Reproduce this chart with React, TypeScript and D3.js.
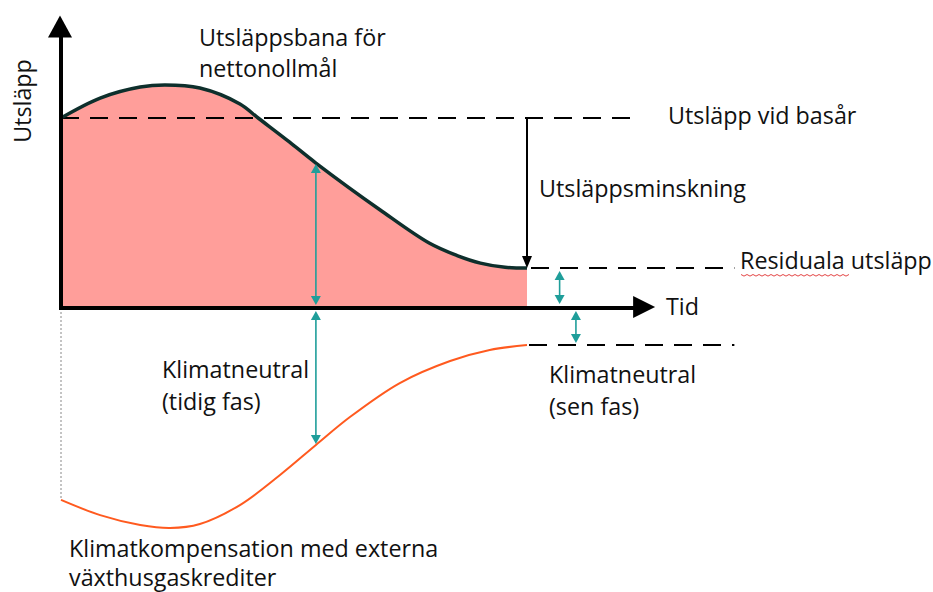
import React from "react";
import * as d3 from "d3";

// ---- data (conceptual units: time 0..100, emissions relative to base year = 100) ----
const emissionTime = [0, 8.4, 17, 22.3, 29.8, 38.4, 42.3, 49, 54.7, 68.5, 79, 85, 90, 95.3, 100];
const emissionValue = [100, 110.5, 116.3, 117.4, 115.8, 107.4, 100, 87.4, 76.3, 51.6, 34.2, 27.6, 23.6, 21.4, 21];
const compensationTime = [0, 8.4, 17, 23.4, 29.8, 38.4, 47, 54.7, 62, 72.7, 83.5, 92, 100];
const compensationValue = [-101, -109, -114.2, -115.8, -113.7, -103.7, -87.9, -72.1, -57.4, -39.5, -27.9, -22.1, -19.5];
const baseLevel = 100;
const residualLevel = 21;
const lateNeutralLevel = -19.5;
const earlyNeutralTime = 54.7;
const labels = {
  yAxis: "Utsläpp",
  xAxis: "Tid",
  pathway: ["Utsläppsbana för", "nettonollmål"],
  base: "Utsläpp vid basår",
  reduction: "Utsläppsminskning",
  residual: "Residuala utsläpp",
  early: ["Klimatneutral", "(tidig fas)"],
  late: ["Klimatneutral", "(sen fas)"],
  compensation: ["Klimatkompensation med externa", "växthusgaskrediter"],
};

const W = 933;
const H = 592;
const FONT = "'Open Sans', 'Noto Sans', sans-serif";
const TEAL = "#1f9e9a";

function DoubleArrow({ x, y1, y2 }: { x: number; y1: number; y2: number }) {
  const h = 9;
  const w = 5;
  return (
    <g>
      <line x1={x} x2={x} y1={y1 + h - 1} y2={y2 - h + 1} stroke={TEAL} strokeWidth={1.6} />
      <polygon points={`${x},${y1} ${x - w},${y1 + h} ${x + w},${y1 + h}`} fill={TEAL} />
      <polygon points={`${x},${y2} ${x - w},${y2 - h} ${x + w},${y2 - h}`} fill={TEAL} />
    </g>
  );
}

export default function App() {
  const x = d3.scaleLinear().domain([0, 100]).range([61, 527]);
  const y = d3.scaleLinear().domain([0, 100]).range([308, 118]);

  const emData = emissionTime.map((t, i) => [t, emissionValue[i]] as [number, number]);
  const compData = compensationTime.map((t, i) => [t, compensationValue[i]] as [number, number]);

  const line = d3
    .line<[number, number]>()
    .x((d) => x(d[0]))
    .y((d) => y(d[1]))
    .curve(d3.curveCatmullRom.alpha(0.5));
  const area = d3
    .area<[number, number]>()
    .x((d) => x(d[0]))
    .y0(y(0))
    .y1((d) => y(d[1]))
    .curve(d3.curveCatmullRom.alpha(0.5));

  const x0 = x(0);
  const xEnd = x(100);
  const xAxisEnd = x(127.5);
  const yAxisTop = y(154);
  const dashEnd = x(144.5);
  const baseDashEnd = x(123.5);
  const yZero = y(0);

  const emAtEarly = 76.3;
  const compEarly = -72.1;

  const textStyle = { fontFamily: FONT, fontSize: 23.3, fill: "#111" } as React.CSSProperties;

  // wavy underline for "Residuala"
  const wavy: string[] = [];
  for (let i = 0; i <= 36; i++) {
    const px = 741 + i * 3;
    const py = 274.5 + (i % 2 === 0 ? 0 : 1.6);
    wavy.push(`${i === 0 ? "M" : "L"}${px},${py}`);
  }

  return (
    <svg
      width={W}
      height={H}
      style={{ position: "absolute", left: 0, top: 0, background: "#fff" }}
    >
      {/* fill */}
      <path d={area(emData) || ""} fill="#ff9e9a" />
      {/* dotted left guide */}
      <line x1={x0} x2={x0} y1={yZero} y2={y(-101)} stroke="#888" strokeWidth={1} strokeDasharray="2,2" />

      {/* dashed reference lines */}
      <line x1={x0} x2={baseDashEnd} y1={y(baseLevel)} y2={y(baseLevel)} stroke="#000" strokeWidth={2} strokeDasharray="18,11" />
      <line x1={xEnd + 4} x2={dashEnd} y1={y(residualLevel)} y2={y(residualLevel)} stroke="#000" strokeWidth={2} strokeDasharray="18,11" />
      <line x1={xEnd + 2} x2={dashEnd} y1={y(lateNeutralLevel)} y2={y(lateNeutralLevel)} stroke="#000" strokeWidth={2} strokeDasharray="18,11" />

      {/* emission pathway */}
      <path d={line(emData) || ""} fill="none" stroke="#0e2f2c" strokeWidth={3.5} />
      {/* compensation curve */}
      <path d={line(compData) || ""} fill="none" stroke="#ff5a1f" strokeWidth={2} />

      {/* reduction arrow */}
      <line x1={xEnd} x2={xEnd} y1={y(baseLevel)} y2={y(residualLevel) - 10} stroke="#000" strokeWidth={2} />
      <polygon
        points={`${xEnd},${y(residualLevel)} ${xEnd - 5},${y(residualLevel) - 12} ${xEnd + 5},${y(residualLevel) - 12}`}
        fill="#000"
      />

      {/* axes */}
      <line x1={x0} x2={x0} y1={yZero + 2} y2={yAxisTop + 20} stroke="#000" strokeWidth={4} />
      <polygon points={`${x0 - 1},${yAxisTop} ${x0 - 13},${yAxisTop + 22} ${x0 + 11},${yAxisTop + 22}`} fill="#000" />
      <line x1={x0 - 2} x2={xAxisEnd - 20} y1={yZero} y2={yZero} stroke="#000" strokeWidth={4} />
      <polygon points={`${xAxisEnd},${yZero - 1} ${xAxisEnd - 22},${yZero - 12} ${xAxisEnd - 22},${yZero + 10}`} fill="#000" />

      {/* teal double arrows */}
      <DoubleArrow x={x(earlyNeutralTime)} y1={y(emAtEarly) + 1} y2={yZero - 3} />
      <DoubleArrow x={x(earlyNeutralTime)} y1={yZero + 3} y2={y(compEarly) - 1} />
      <DoubleArrow x={x(107)} y1={y(residualLevel) + 3} y2={yZero - 4} />
      <DoubleArrow x={x(110.5)} y1={yZero + 3} y2={y(lateNeutralLevel) - 2} />

      {/* labels */}
      <text style={textStyle} transform={`translate(31,101) rotate(-90)`} textAnchor="middle">
        {labels.yAxis}
      </text>
      <text style={textStyle} x={199} y={46}>{labels.pathway[0]}</text>
      <text style={textStyle} x={199} y={77}>{labels.pathway[1]}</text>
      <text style={textStyle} x={668} y={124}>{labels.base}</text>
      <text style={textStyle} x={539} y={197}>{labels.reduction}</text>
      <text style={textStyle} x={740} y={269}>{labels.residual}</text>
      <path d={wavy.join(" ")} fill="none" stroke="#e03030" strokeWidth={0.9} />
      <text style={textStyle} x={666} y={315}>{labels.xAxis}</text>
      <text style={textStyle} x={162} y={378}>{labels.early[0]}</text>
      <text style={textStyle} x={162} y={410}>{labels.early[1]}</text>
      <text style={textStyle} x={549} y={383}>{labels.late[0]}</text>
      <text style={textStyle} x={549} y={415}>{labels.late[1]}</text>
      <text style={textStyle} x={69} y={557}>{labels.compensation[0]}</text>
      <text style={textStyle} x={69} y={586}>{labels.compensation[1]}</text>
    </svg>
  );
}
